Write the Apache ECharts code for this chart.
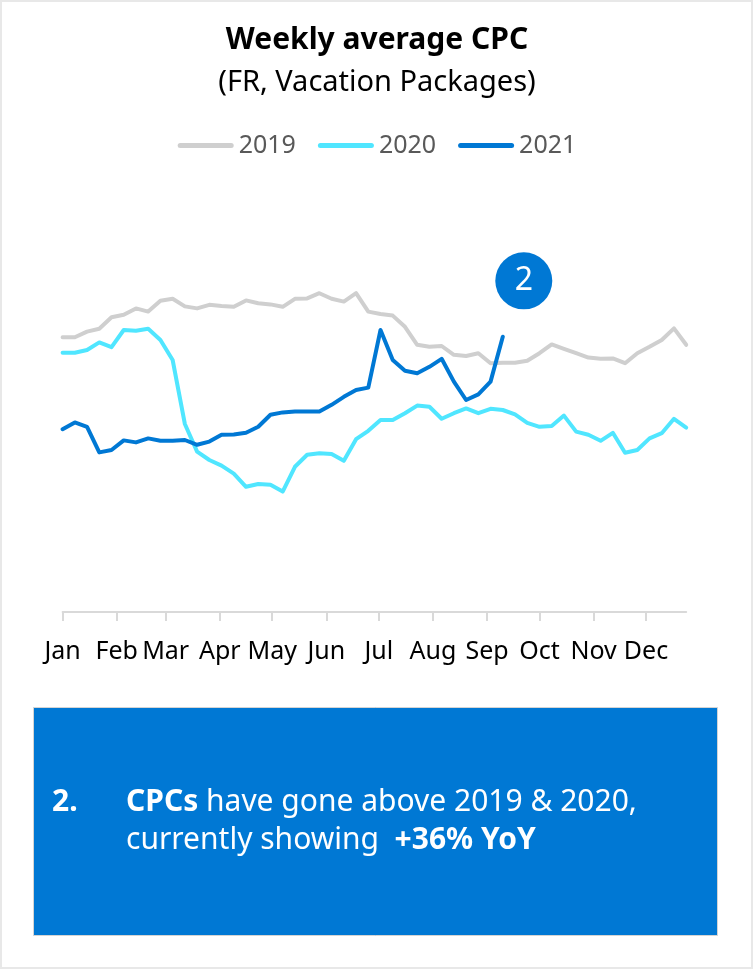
<!DOCTYPE html>
<html>
<head>
<meta charset="utf-8">
<script src="https://cdn.jsdelivr.net/npm/echarts@6/dist/echarts.min.js"></script>
<style>
  html, body { margin: 0; padding: 0; background: #ffffff; }
  #frame { position: absolute; left: 0; top: 0; width: 753px; height: 969px; box-sizing: border-box; border: 2px solid #e8e8e8; }
  #chart { position: absolute; left: 0; top: 0; width: 754px; height: 971px; }
</style>
</head>
<body>
<div id="frame"></div>
<div id="chart"></div>
<script>
// Month tick labels and the day-of-year each month starts on
const months = ['Jan', 'Feb', 'Mar', 'Apr', 'May', 'Jun', 'Jul', 'Aug', 'Sep', 'Oct', 'Nov', 'Dec'];
const monthStartDays = [0, 31, 59, 90, 120, 151, 181, 212, 243, 273, 304, 334];

const seriesNames = ['2019', '2020', '2021'];

// Weekly average CPC (EUR), one value per week starting 1 Jan
const cpc2019 = [
  0.687, 0.687, 0.701, 0.708, 0.737, 0.743, 0.759, 0.751, 0.778, 0.783,
  0.764, 0.759, 0.768, 0.765, 0.763, 0.779, 0.772, 0.769, 0.763, 0.783,
  0.784, 0.797, 0.783, 0.776, 0.797, 0.751, 0.745, 0.741, 0.713, 0.668,
  0.663, 0.665, 0.643, 0.640, 0.647, 0.622, 0.623, 0.623, 0.628, 0.647,
  0.669, 0.658, 0.647, 0.636, 0.633, 0.634, 0.622, 0.647, 0.663, 0.680,
  0.709, 0.668
];
const cpc2020 = [
  0.648, 0.648, 0.655, 0.674, 0.662, 0.705, 0.703, 0.708, 0.680, 0.630,
  0.470, 0.401, 0.380, 0.366, 0.346, 0.313, 0.320, 0.318, 0.301, 0.363,
  0.393, 0.397, 0.395, 0.378, 0.432, 0.453, 0.480, 0.480, 0.497, 0.516,
  0.513, 0.483, 0.497, 0.509, 0.497, 0.508, 0.505, 0.494, 0.473, 0.463,
  0.465, 0.491, 0.451, 0.443, 0.428, 0.448, 0.398, 0.405, 0.434, 0.447,
  0.483, 0.461
];
const cpc2021 = [
  0.457, 0.474, 0.463, 0.399, 0.405, 0.429, 0.424, 0.434, 0.428, 0.428,
  0.430, 0.418, 0.426, 0.443, 0.444, 0.448, 0.463, 0.493, 0.499, 0.501,
  0.501, 0.501, 0.518, 0.538, 0.555, 0.561, 0.705, 0.630, 0.603, 0.597,
  0.613, 0.633, 0.576, 0.530, 0.544, 0.576, 0.688
];

const colors = ['#cfcfcf', '#50e6ff', '#0078d4'];
const FONT = "'Noto Sans', 'Open Sans', sans-serif";
const DAYS_PER_WEEK = 7;
const lastDay = (cpc2019.length - 1) * DAYS_PER_WEEK;

const toPoints = arr => arr.map((v, i) => [i * DAYS_PER_WEEK, v]);
const pill = 'path://M2.5,0 L53.5,0 A2.5,2.5 0 0 1 53.5,5 L2.5,5 A2.5,2.5 0 0 1 2.5,0 Z';

const chart = echarts.init(document.getElementById('chart'), null, { renderer: 'canvas' });

const lineSeries = [cpc2019, cpc2020, cpc2021].map((arr, k) => ({
  name: seriesNames[k],
  type: 'line',
  data: toPoints(arr),
  symbol: 'none',
  showSymbol: false,
  smooth: false,
  color: colors[k],
  itemStyle: { color: colors[k] },
  lineStyle: { width: 4, color: colors[k], cap: 'round', join: 'round' },
  emphasis: { disabled: true },
  z: 2 + k
}));

// Numbered callout on the latest 2021 week
const last2021 = cpc2021.length - 1;
lineSeries[2].markPoint = {
  symbol: 'circle',
  symbolSize: 57,
  symbolOffset: [21, -56],
  itemStyle: { color: '#0078d4' },
  label: { show: true, formatter: '2', color: '#ffffff', fontSize: 32, fontFamily: FONT, fontWeight: 'normal' },
  data: [{ coord: [last2021 * DAYS_PER_WEEK, cpc2021[last2021]] }],
  silent: true
};

chart.setOption({
  backgroundColor: 'transparent',
  animation: false,
  title: {
    text: 'Weekly average CPC',
    subtext: '(FR, Vacation Packages)',
    left: 'center',
    top: 20,
    itemGap: 13,
    textStyle: { fontFamily: FONT, fontSize: 30, fontWeight: 'bold', color: '#000000' },
    subtextStyle: { fontFamily: FONT, fontSize: 29, fontWeight: 'normal', color: '#000000' }
  },
  legend: {
    data: seriesNames,
    left: 'center',
    top: 128,
    icon: pill,
    itemWidth: 56,
    itemHeight: 5,
    itemGap: 22,
    textStyle: { fontFamily: FONT, fontSize: 25, color: '#595959' },
    selectedMode: false
  },
  grid: { left: 62.6, right: 67.8, top: 212, bottom: 359, outerBoundsMode: 'none' },
  xAxis: {
    type: 'value',
    min: 0,
    max: lastDay,
    axisLine: { show: true, lineStyle: { color: '#d9d9d9', width: 2 } },
    axisTick: { show: true, customValues: monthStartDays, length: 9, lineStyle: { color: '#d9d9d9', width: 2 } },
    axisLabel: {
      customValues: monthStartDays,
      formatter: v => months[monthStartDays.indexOf(v)],
      fontFamily: FONT, fontSize: 25, color: '#000000', margin: 27
    },
    splitLine: { show: false }
  },
  yAxis: { type: 'value', min: 0, max: 1, show: false, splitLine: { show: false } },
  series: lineSeries,
  graphic: [
    {
      type: 'rect', left: 33, top: 707, z: 10,
      shape: { width: 684, height: 228 },
      style: { fill: '#0078d4', stroke: '#d4d4d4', lineWidth: 1 }
    },
    {
      type: 'text', left: 52, top: 787, z: 11,
      style: { text: '2.', fontFamily: FONT, fontSize: 30, fontWeight: 'bold', fill: '#ffffff' }
    },
    {
      type: 'text', left: 126, top: 787, z: 11,
      style: {
        text: '{b|CPCs} have gone above 2019 & 2020,',
        fontFamily: FONT, fontSize: 30, fill: '#ffffff',
        rich: { b: { fontFamily: FONT, fontSize: 30, fontWeight: 'bold', fill: '#ffffff' } }
      }
    },
    {
      type: 'text', left: 126, top: 825, z: 11,
      style: {
        text: 'currently showing  {b|+36% YoY}',
        fontFamily: FONT, fontSize: 30, fill: '#ffffff',
        rich: { b: { fontFamily: FONT, fontSize: 30, fontWeight: 'bold', fill: '#ffffff' } }
      }
    }
  ]
});
</script>
</body>
</html>
